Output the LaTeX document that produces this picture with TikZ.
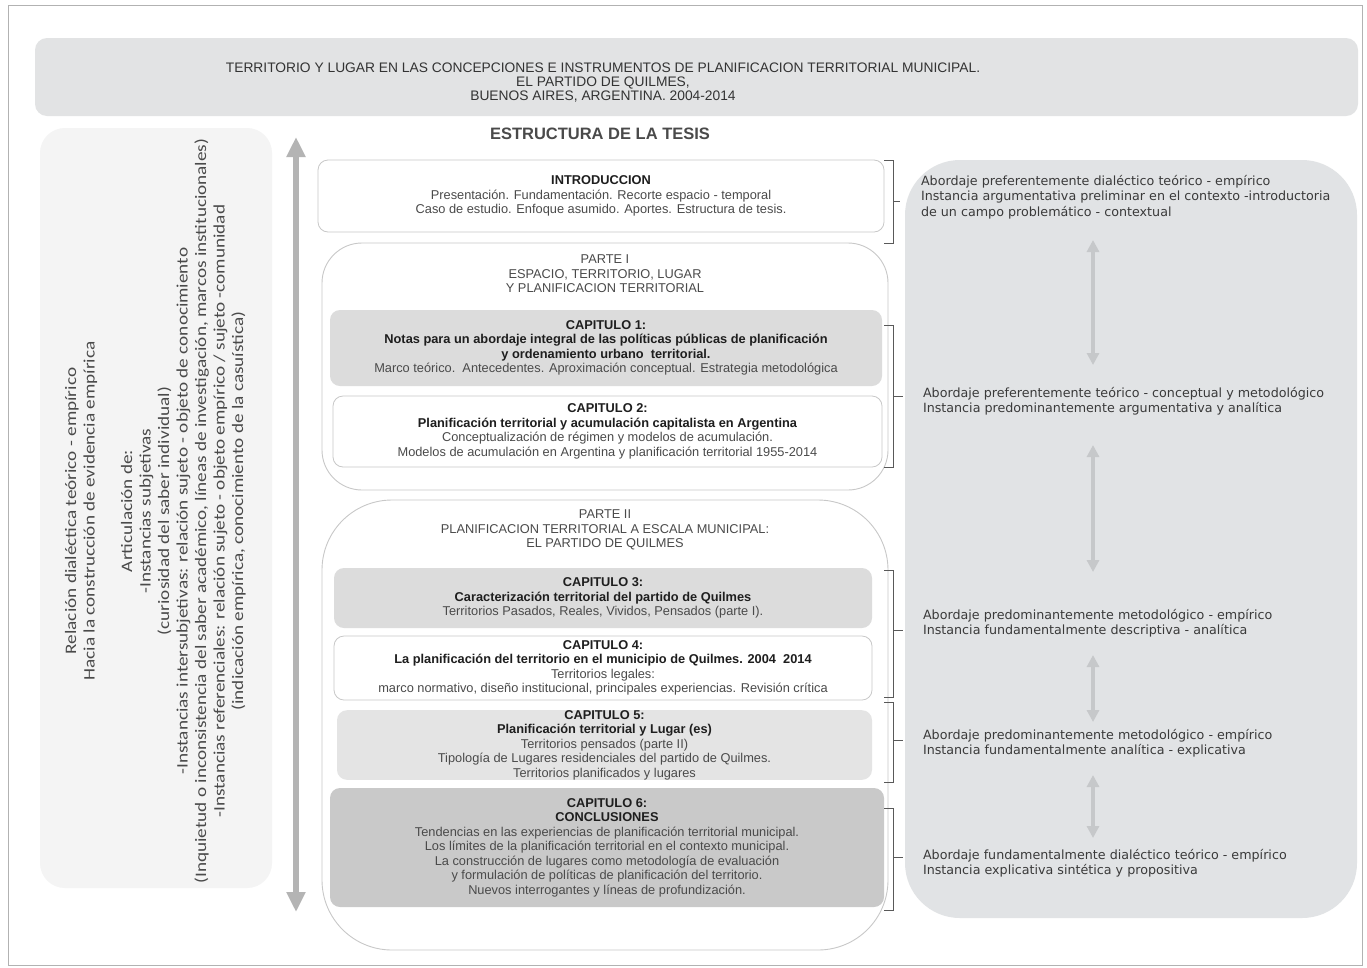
\documentclass[tikz,border=0pt]{standalone}
\usepackage{fontspec}
\setmainfont{Liberation Sans}
\newfontfamily\dejavu{DejaVu Sans}
\newfontfamily\carlito{Carlito}
\usetikzlibrary{arrows.meta}
\definecolor{panel}{HTML}{E1E3E5}
\definecolor{hdr}{HTML}{E2E3E4}
\definecolor{leftp}{HTML}{F4F4F4}
\definecolor{cgray}{HTML}{DCDCDC}
\definecolor{cgrayl}{HTML}{E4E4E4}
\definecolor{cgrayd}{HTML}{C9C9C9}
\definecolor{bord}{HTML}{C8C8C8}
\definecolor{txt}{HTML}{4A4A4A}
\definecolor{txtb}{HTML}{1E1E1E}
\definecolor{rtxt}{HTML}{3A3A3A}
\definecolor{arr}{HTML}{B4B4B4}
\definecolor{arrl}{HTML}{C6C8CA}
\newcommand\chb[1]{\textcolor{txtb}{\bfseries #1}}
\begin{document}
\begin{tikzpicture}[x=1pt,y=-1pt,
  every node/.style={inner sep=0pt, outer sep=0pt},
  ctext/.style={align=center, text=txt, font=\fontsize{12.8}{14.5}\selectfont},
  chapbox/.style={ctext, rounded corners=10pt},
  whitebox/.style={chapbox, fill=white, draw=bord, line width=0.8pt},
  partbox/.style={draw=bord, line width=0.9pt, fill=white},
  rtext/.style={anchor=west, align=left, text=rtxt, font=\dejavu\fontsize{12.7}{15.5}\selectfont},
  brace/.style={draw=black!65, line width=1pt},
  bigarrow/.style={draw=arr, line width=6pt, {Triangle[width=18pt,length=20pt]}-{Triangle[width=18pt,length=20pt]}},
  smallarrow/.style={draw=arrl, line width=4pt, {Triangle[width=12pt,length=12pt]}-{Triangle[width=12pt,length=12pt]}},
]
\useasboundingbox (0,0) rectangle (1367,967);
\fill[white] (0,0) rectangle (1367,967);
\draw[gray!60, line width=1pt] (8,5) rectangle (1362,965);

% header
\node[fill=hdr, rounded corners=12pt, minimum width=1323, minimum height=78] (hdr) at (696.5,77) {};
\node[align=center, text=black!80, font=\fontsize{13.8}{14}\selectfont] (title) at (603,83)
 {TERRITORIO Y LUGAR EN LAS CONCEPCIONES E INSTRUMENTOS DE PLANIFICACION TERRITORIAL MUNICIPAL.\\
  EL PARTIDO DE QUILMES,\\ BUENOS AIRES, ARGENTINA. 2004-2014};
\node[font=\bfseries\fontsize{16.5}{18}\selectfont, text=txt] (est) at (600,134) {ESTRUCTURA DE LA TESIS};

% left panel
\node[fill=leftp, rounded corners=25pt, minimum width=232, minimum height=760] (lp) at (156,508) {};
\node[rotate=90, text=txt, font=\carlito\fontsize{16}{18.5}\selectfont] (ltext) at (156,511)
 {\scalebox{1.2}[1]{\begin{tabular}{@{}c@{}}
  Relación dialéctica teórico - empírico\\
  Hacia la construcción de evidencia empírica\\[19pt]
  Articulación de:\\
  -Instancias subjetivas\\
  (curiosidad del saber individual)\\
  -Instancias intersubjetivas: relación sujeto - objeto de conocimiento\\
  (Inquietud o inconsistencia del saber académico, líneas de investigación, marcos institucionales)\\
  -Instancias referenciales: relación sujeto - objeto empírico / sujeto -comunidad\\
  (indicación empírica, conocimiento de la casuística)
  \end{tabular}}};

% big vertical arrow
\coordinate (vtop) at (296,137);
\coordinate (vbot) at (296,912);
\draw[bigarrow] (vtop) -- (vbot);

% right panel
\node[fill=panel, rounded corners=55pt, minimum width=452, minimum height=758] (rp) at (1131,539) {};

% centre column
\node[whitebox, minimum width=566, minimum height=72] (intro) at (601,196)
 {\chb{INTRODUCCION}\\
  Presentación. Fundamentación. Recorte espacio - temporal\\
  Caso de estudio. Enfoque asumido. Aportes. Estructura de tesis.};

\node[partbox, rounded corners=40pt, minimum width=566, minimum height=247] (p1) at (605,366.5) {};
\node[ctext] (p1lab) at (605,274) {PARTE I\\ESPACIO, TERRITORIO, LUGAR\\Y PLANIFICACION TERRITORIAL};

\node[chapbox, fill=cgray, minimum width=552, minimum height=76] (c1) at (606,348)
 {\chb{CAPITULO 1:}\\
  \chb{Notas para un abordaje integral de las políticas públicas de planificación}\\
  \chb{y ordenamiento urbano\ \ territorial.}\\
  Marco teórico.\ \ Antecedentes. Aproximación conceptual. Estrategia metodológica};

\node[whitebox, minimum width=549, minimum height=71] (c2) at (607.5,431.5)
 {\chb{CAPITULO 2:}\\
  \chb{Planificación territorial y acumulación capitalista en Argentina}\\
  Conceptualización de régimen y modelos de acumulación.\\
  Modelos de acumulación en Argentina y planificación territorial 1955-2014};

\node[partbox, rounded corners=70pt, minimum width=566, minimum height=450] (p2) at (605,725) {};
\node[ctext] (p2lab) at (605,530) {PARTE II\\PLANIFICACION TERRITORIAL A ESCALA MUNICIPAL:\\EL PARTIDO DE QUILMES};

\node[chapbox, fill=cgray, minimum width=538, minimum height=60] (c3) at (603,598)
 {\chb{CAPITULO 3:}\\
  \chb{Caracterización territorial del partido de Quilmes}\\
  Territorios Pasados, Reales, Vividos, Pensados (parte I).};

\node[whitebox, minimum width=538, minimum height=64] (c4) at (603,668)
 {\chb{CAPITULO 4:}\\
  \chb{La planificación del territorio en el municipio de Quilmes. 2004\ \ 2014}\\
  Territorios legales:\\
  marco normativo, diseño institucional, principales experiencias. Revisión crítica};

\node[chapbox, fill=cgrayl, minimum width=535, minimum height=69] (c5) at (604.5,745)
 {\chb{CAPITULO 5:}\\
  \chb{Planificación territorial y Lugar (es)}\\
  Territorios pensados (parte II)\\
  Tipología de Lugares residenciales del partido de Quilmes.\\
  Territorios planificados y lugares};

\node[chapbox, fill=cgrayd, minimum width=554, minimum height=119] (c6) at (607,847.5)
 {\chb{CAPITULO 6:}\\
  \chb{CONCLUSIONES}\\
  Tendencias en las experiencias de planificación territorial municipal.\\
  Los límites de la planificación territorial en el contexto municipal.\\
  La construcción de lugares como metodología de evaluación\\
  y formulación de políticas de planificación del territorio.\\
  Nuevos interrogantes y líneas de profundización.};

% braces
\draw[brace] (884,160) -- (893,160) -- (893,243) -- (884,243);
\draw[brace] (893,201.5) -- (900,201.5);
\draw[brace] (884,325) -- (893,325) -- (893,467) -- (884,467);
\draw[brace] (893,396) -- (903,396);
\draw[brace] (884,570) -- (893,570) -- (893,697) -- (884,697);
\draw[brace] (893,630) -- (903,630);
\draw[brace] (884,702) -- (893,702) -- (893,782) -- (884,782);
\draw[brace] (893,740) -- (903,740);
\draw[brace] (884,808) -- (893,808) -- (893,910) -- (884,910);
\draw[brace] (893,857) -- (903,857);

% right texts
\node[rtext] (r1) at (921,197)
 {Abordaje preferentemente dialéctico teórico - empírico\\
  Instancia argumentativa preliminar en el contexto -introductoria\\
  de un campo problemático - contextual};
\node[rtext] (r2) at (923,401)
 {Abordaje preferentemente teórico - conceptual y metodológico\\
  Instancia predominantemente argumentativa y analítica};
\node[rtext] (r3) at (923,623)
 {Abordaje predominantemente metodológico - empírico\\
  Instancia fundamentalmente descriptiva - analítica};
\node[rtext] (r4) at (923,743)
 {Abordaje predominantemente metodológico - empírico\\
  Instancia fundamentalmente analítica - explicativa};
\node[rtext] (r5) at (923,863)
 {Abordaje fundamentalmente dialéctico teórico - empírico\\
  Instancia explicativa sintética y propositiva};

% small arrows in right panel
\coordinate (a1t) at (1093,240); \coordinate (a1b) at (1093,365);
\coordinate (a2t) at (1093,445); \coordinate (a2b) at (1093,572);
\coordinate (a3t) at (1093,655); \coordinate (a3b) at (1093,722);
\coordinate (a4t) at (1093,775); \coordinate (a4b) at (1093,838);
\draw[smallarrow] (a1t) -- (a1b);
\draw[smallarrow] (a2t) -- (a2b);
\draw[smallarrow] (a3t) -- (a3b);
\draw[smallarrow] (a4t) -- (a4b);
\end{tikzpicture}
\end{document}
